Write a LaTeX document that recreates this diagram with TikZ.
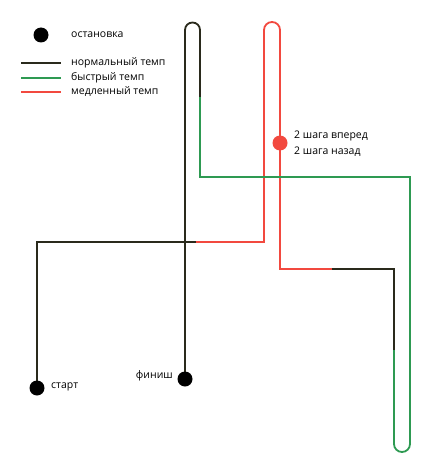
\documentclass[tikz,border=0pt]{standalone}
\usepackage{fontspec}
\setmainfont{Open Sans}
\begin{document}
\begin{tikzpicture}[x=1pt,y=-1pt,
  normal/.style={draw=normcol,line width=1.8pt,line join=miter},
  fast/.style={draw=fastcol,line width=1.8pt,line join=miter},
  slow/.style={draw=slowcol,line width=1.8pt,line join=miter},
  stopdot/.style={circle,fill=black,inner sep=0pt,minimum size=15pt},
  lbl/.style={font=\fontsize{10.5}{12}\selectfont,inner sep=0pt}]
\definecolor{normcol}{HTML}{2A2A1C}
\definecolor{fastcol}{HTML}{2E9A52}
\definecolor{slowcol}{HTML}{F2493F}
\useasboundingbox (0,0) rectangle (433,476);
% legend
\node[stopdot] (lstop) at (41,35) {};
\node[lbl,anchor=west] (tstop) at (71,35) {остановка};
\coordinate (l1a) at (21,63); \coordinate (l1b) at (61,63);
\coordinate (l2a) at (21,78); \coordinate (l2b) at (61,78);
\coordinate (l3a) at (21,92); \coordinate (l3b) at (61,92);
\draw[normal] (l1a) -- (l1b);
\draw[fast] (l2a) -- (l2b);
\draw[slow] (l3a) -- (l3b);
\node[lbl,anchor=west] (tn) at (71,63) {нормальный темп};
\node[lbl,anchor=west] (tf) at (71,78) {быстрый темп};
\node[lbl,anchor=west] (ts) at (71,92) {медленный темп};
% route points
\coordinate (s) at (37,388);
\coordinate (p1) at (37,242);
\coordinate (p2) at (196,242);
\coordinate (p3) at (264,242);
\coordinate (p4) at (264,30);
\coordinate (p5) at (280,30);
\coordinate (p6) at (280,269);
\coordinate (p7) at (332,269);
\coordinate (p8) at (394,269);
\coordinate (p9) at (394,350);
\coordinate (p10) at (394,444);
\coordinate (p11) at (410,444);
\coordinate (p12) at (410,177);
\coordinate (p13) at (200,177);
\coordinate (p14) at (200,97);
\coordinate (p15) at (200,30);
\coordinate (p16) at (185,30);
\coordinate (f) at (185,379);
% route
\draw[normal] (s) -- (p1) -- (p2);
\draw[slow] (p2) -- (p3) -- (p4) arc[start angle=180,end angle=360,radius=8] -- (p6) -- (p7);
\draw[normal] (p7) -- (p8) -- (p9);
\draw[fast] (p9) -- (p10) arc[start angle=180,end angle=0,radius=8] -- (p12) -- (p13) -- (p14);
\draw[normal] (p14) -- (p15) arc[start angle=0,end angle=-180,radius=7.5] -- (f);
% stops
\node[stopdot] (start) at (s) {};
\node[stopdot] (finish) at (f) {};
\node[stopdot,fill=slowcol] (mid) at (280,143) {};
\node[lbl,anchor=west] (tstart) at (51,387) {старт};
\node[lbl,anchor=east] (tfinish) at (173,376) {финиш};
\node[lbl,anchor=north west,align=left,font=\fontsize{10.5}{16}\selectfont] (tmid) at (294,131) {2 шага вперед\\2 шага назад};
\end{tikzpicture}
\end{document}
